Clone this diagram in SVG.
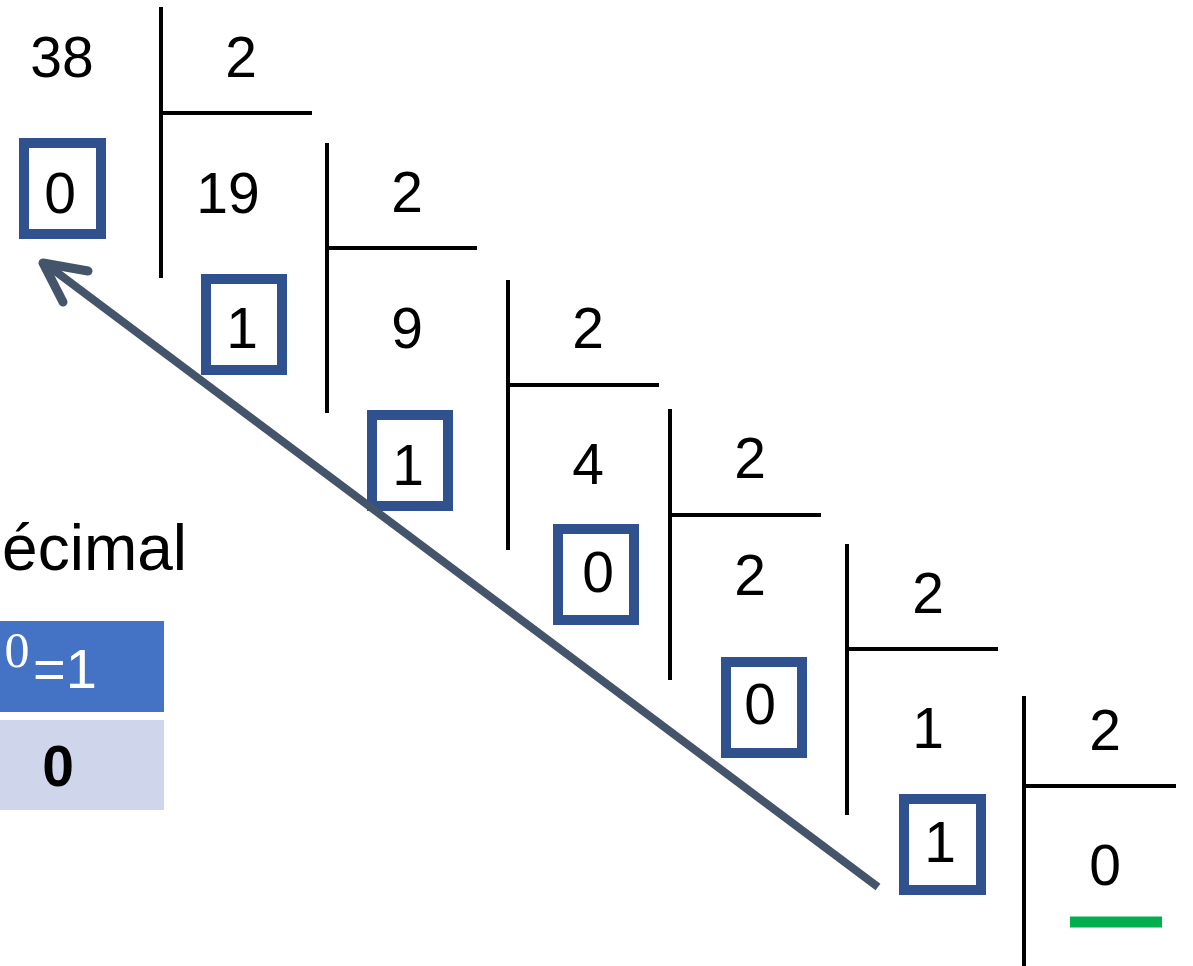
<svg xmlns="http://www.w3.org/2000/svg" width="1193" height="966" viewBox="0 0 1193 966">
<style>
.n{font-family:"Liberation Sans",Arial,sans-serif;font-size:57px;fill:#000;text-anchor:middle}
.bar{stroke:#000;stroke-width:4;fill:none}
.box{fill:none;stroke:#2F528F;stroke-width:10}
</style>
<rect x="0" y="0" width="1193" height="966" fill="#fff"/>
<g id="heading"><text x="187" y="570" font-family="Liberation Sans, Arial, sans-serif" font-size="64" text-anchor="end" fill="#000">écimal</text></g>
<g id="table">
<rect x="-10" y="621" width="174" height="91" fill="#4472C4"/>
<rect x="-10" y="720" width="174" height="90" fill="#CFD5EA"/>
<text x="17" y="667" font-family="Liberation Serif, serif" font-size="50" fill="#fff" text-anchor="middle">0</text>
<text x="33" y="688" font-family="Liberation Sans, Arial, sans-serif" font-size="56" fill="#fff">=1</text>
<text x="58" y="786" font-family="Liberation Sans, Arial, sans-serif" font-size="57" font-weight="bold" fill="#000" text-anchor="middle">0</text>
</g>
<g id="div1">
<path class="bar" d="M161 7V278M161 113H312"/>
<text class="n" x="62" y="77">38</text><text class="n" x="241" y="77">2</text>
</g>
<g id="div2">
<path class="bar" d="M327 143V413M327 248H477"/>
<text class="n" x="228" y="213">19</text><text class="n" x="407" y="212">2</text>
</g>
<g id="div3">
<path class="bar" d="M508 280V550M508 385H659"/>
<text class="n" x="407" y="348">9</text><text class="n" x="588" y="348">2</text>
</g>
<g id="div4">
<path class="bar" d="M670 409V680M670 515H821"/>
<text class="n" x="588" y="484">4</text><text class="n" x="750" y="478">2</text>
</g>
<g id="div5">
<path class="bar" d="M847 544V815M847 649H998"/>
<text class="n" x="750" y="595">2</text><text class="n" x="928" y="613">2</text>
</g>
<g id="div6">
<path class="bar" d="M1024 696V966M1024 786H1176"/>
<text class="n" x="928" y="748">1</text><text class="n" x="1105" y="750">2</text>
<text class="n" x="1105" y="885">0</text>
<line x1="1070" y1="922" x2="1162" y2="922" stroke="#00B050" stroke-width="11"/>
</g>
<g id="r0"><rect class="box" x="24" y="143" width="77" height="91"/><text class="n" x="60" y="213">0</text></g>
<g id="r1"><rect class="box" x="206" y="279" width="76" height="91"/><text class="n" x="242" y="348">1</text></g>
<g id="r2"><rect class="box" x="372" y="415" width="76" height="91"/><text class="n" x="408" y="485">1</text></g>
<g id="r3"><rect class="box" x="558" y="529" width="76" height="91"/><text class="n" x="598" y="592">0</text></g>
<g id="r4"><rect class="box" x="726" y="662" width="76" height="91"/><text class="n" x="760" y="724">0</text></g>
<g id="r5"><rect class="box" x="904" y="799" width="77" height="91"/><text class="n" x="940" y="862">1</text></g>
<g id="connectors" stroke="#44546A" fill="none" stroke-linecap="round" stroke-linejoin="round">
<line x1="878" y1="887" x2="47" y2="265" stroke-width="8" stroke-linecap="butt"/>
<path d="M88 271L43 263L63 302" stroke-width="9"/>
</g>
</svg>
